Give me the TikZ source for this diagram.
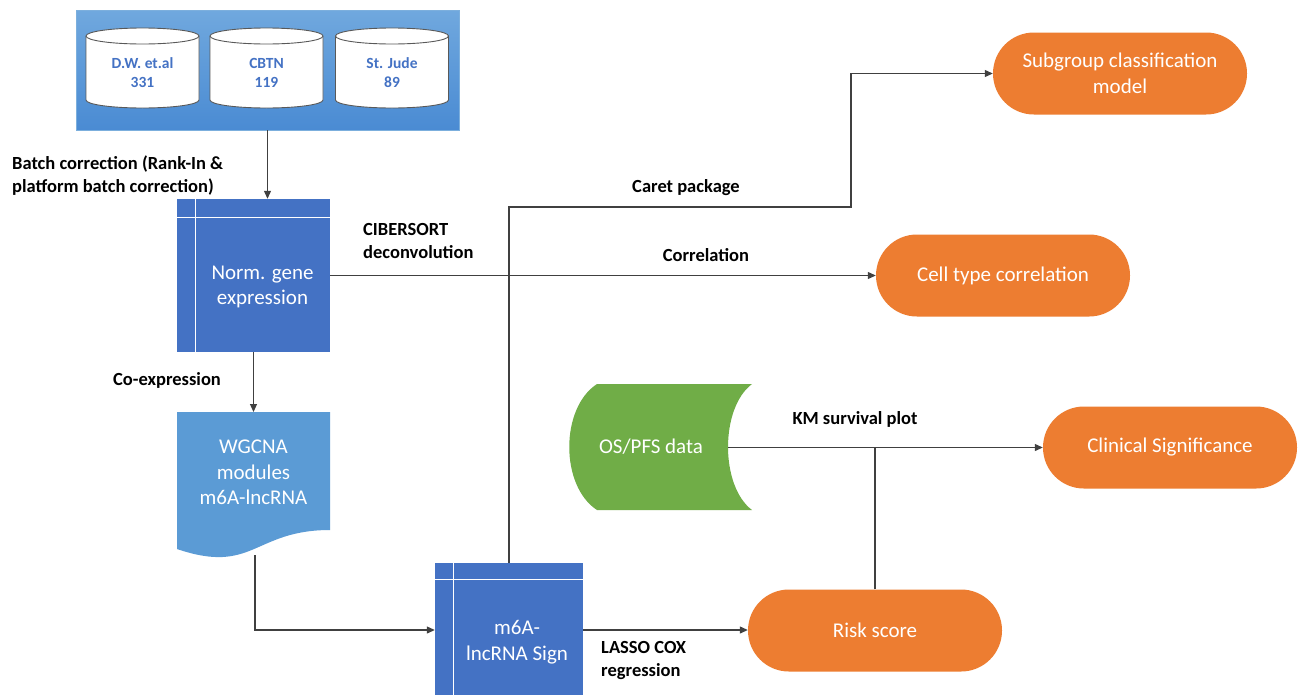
\documentclass[tikz,border=0pt]{standalone}
\usepackage{fontspec}
\setmainfont{Carlito}
\usetikzlibrary{arrows.meta,calc}
\definecolor{dblue}{HTML}{4472C4}
\definecolor{mblue}{HTML}{5B9BD5}
\definecolor{topblue}{HTML}{70A8DE}
\definecolor{botblue}{HTML}{4A8BD3}
\definecolor{orng}{HTML}{ED7D31}
\definecolor{grn}{HTML}{70AD47}
\definecolor{linec}{HTML}{404040}
\definecolor{cylline}{HTML}{595959}
\begin{document}
\begin{tikzpicture}[x=1pt,y=1pt,
  conn/.style={draw=linec, line width=1.1pt},
  arr/.style={conn, -{Triangle[length=8pt,width=7pt]}},
  lbl/.style={font=\fontsize{18.5}{23}\selectfont\bfseries, text=black, inner sep=0pt, align=left},
  term/.style={rectangle, rounded corners=40.9pt, fill=orng, text=white, minimum width=254pt, minimum height=82pt, font=\fontsize{21}{26}\selectfont, align=center, inner sep=0pt},
  proc/.style={rectangle, fill=dblue, inner sep=0pt},
  wtext/.style={text=white, font=\fontsize{21}{25.5}\selectfont, align=center, inner sep=0pt},
  cyltext/.style={text=dblue, font=\fontsize{15.5}{19}\selectfont\bfseries, align=center, inner sep=0pt}]
\useasboundingbox (0,0) rectangle (1298,-694);
\fill[white] (0,0) rectangle (1298,-694);

% source box with cylinders
\node[rectangle, minimum width=383pt, minimum height=120pt, inner sep=0pt, top color=topblue, bottom color=botblue, draw=mblue!80!white, line width=0.6pt] (src) at (267.5,-70) {};
\foreach \cx/\nm/\num/\id in {142.5/{D.W. et.al}/331/c1, 266.5/CBTN/119/c2, 392/{St. Jude}/89/c3}{
  \filldraw[fill=white, draw=cylline, line width=0.9pt] (\cx-56.5,-36) -- (\cx-56.5,-100)
     arc[start angle=180, end angle=360, x radius=56.5pt, y radius=8pt] -- (\cx+56.5,-36)
     arc[start angle=0, end angle=180, x radius=56.5pt, y radius=8pt] -- cycle;
  \draw[cylline, line width=0.9pt] (\cx-56.5,-36) arc[start angle=180, end angle=360, x radius=56.5pt, y radius=8pt];
  \node[cyltext] (\id) at (\cx,-72.5) {\nm\\\num};
}

% Norm. gene expression
\node[proc, minimum width=153pt, minimum height=153pt] (norm) at (253.5,-275.5) {};
\draw[white, line width=0.8pt] (195,-199) -- (195,-352) (177,-217) -- (330,-217);
\node[wtext] (normT) at (262.5,-287) {Norm. gene\\expression};

% WGCNA document
\fill[mblue] (177,-412) -- (330,-412) -- (330,-530)
   .. controls (253.5,-530) and (253.5,-575) .. (177,-549) -- cycle;
\node[wtext] (wg) at (253.5,-472.5) {WGCNA\\modules\\m6A-lncRNA};
\coordinate (wgtop) at (253.5,-412);
\coordinate (wgB) at (255,-555);

% m6A-lncRNA Sign
\node[proc, minimum width=148pt, minimum height=134pt] (m6a) at (509,-630) {};
\draw[white, line width=0.8pt] (453,-563) -- (453,-697) (435,-579) -- (583,-579);
\node[wtext] (m6aT) at (517,-642) {m6A-\\lncRNA Sign};

% OS/PFS data
\fill[grn] (597,-384) -- (752,-384) .. controls (720,-408) and (720,-486) .. (752,-510)
   -- (597,-510) .. controls (560,-486) and (560,-408) .. cycle;
\node[text=white, font=\fontsize{21}{25}\selectfont, inner sep=0pt] (os) at (651,-447) {OS/PFS data};
\coordinate (osR) at (728,-447.5);

% terminal nodes
\node[term] (sub) at (1120,-73.5) {Subgroup classification\\model};
\node[term] (cell) at (1003,-275.5) {Cell type correlation};
\node[term] (clin) at (1170,-447.5) {Clinical Significance};
\node[term] (risk) at (875,-630.5) {Risk score};

% connectors
\coordinate (caretC) at (851,-207);
\draw[arr] (src.south) -- (src.south |- norm.north);
\draw[arr] (norm.south) -- (wgtop);
\draw[arr] (wgB) |- (m6a.west);
\draw[arr] (m6a.north) |- (caretC) |- (sub.west);
\draw[arr] (norm.east) -- (norm.east -| cell.west);
\draw[arr] (osR) -- (osR -| clin.west);
\draw[conn] (risk.north) -- (risk.north |- osR);
\draw[arr] (m6a.east) -- (m6a.east -| risk.west);

% labels
\node[lbl, anchor=west] (lbatch) at (12,-175.5) {Batch correction (Rank-In \&\\platform batch correction)};
\node[lbl, anchor=west] (lciber) at (363,-240.5) {CIBERSORT\\deconvolution};
\node[lbl, anchor=west] (lcoex) at (113,-380) {Co-expression};
\node[lbl] (lcaret) at (686,-188) {Caret package};
\node[lbl] (lcorr) at (706,-255) {Correlation};
\node[lbl] (lkm) at (855,-419) {KM survival plot};
\node[lbl, anchor=west] (llasso) at (601,-660) {LASSO COX\\regression};
\end{tikzpicture}
\end{document}
